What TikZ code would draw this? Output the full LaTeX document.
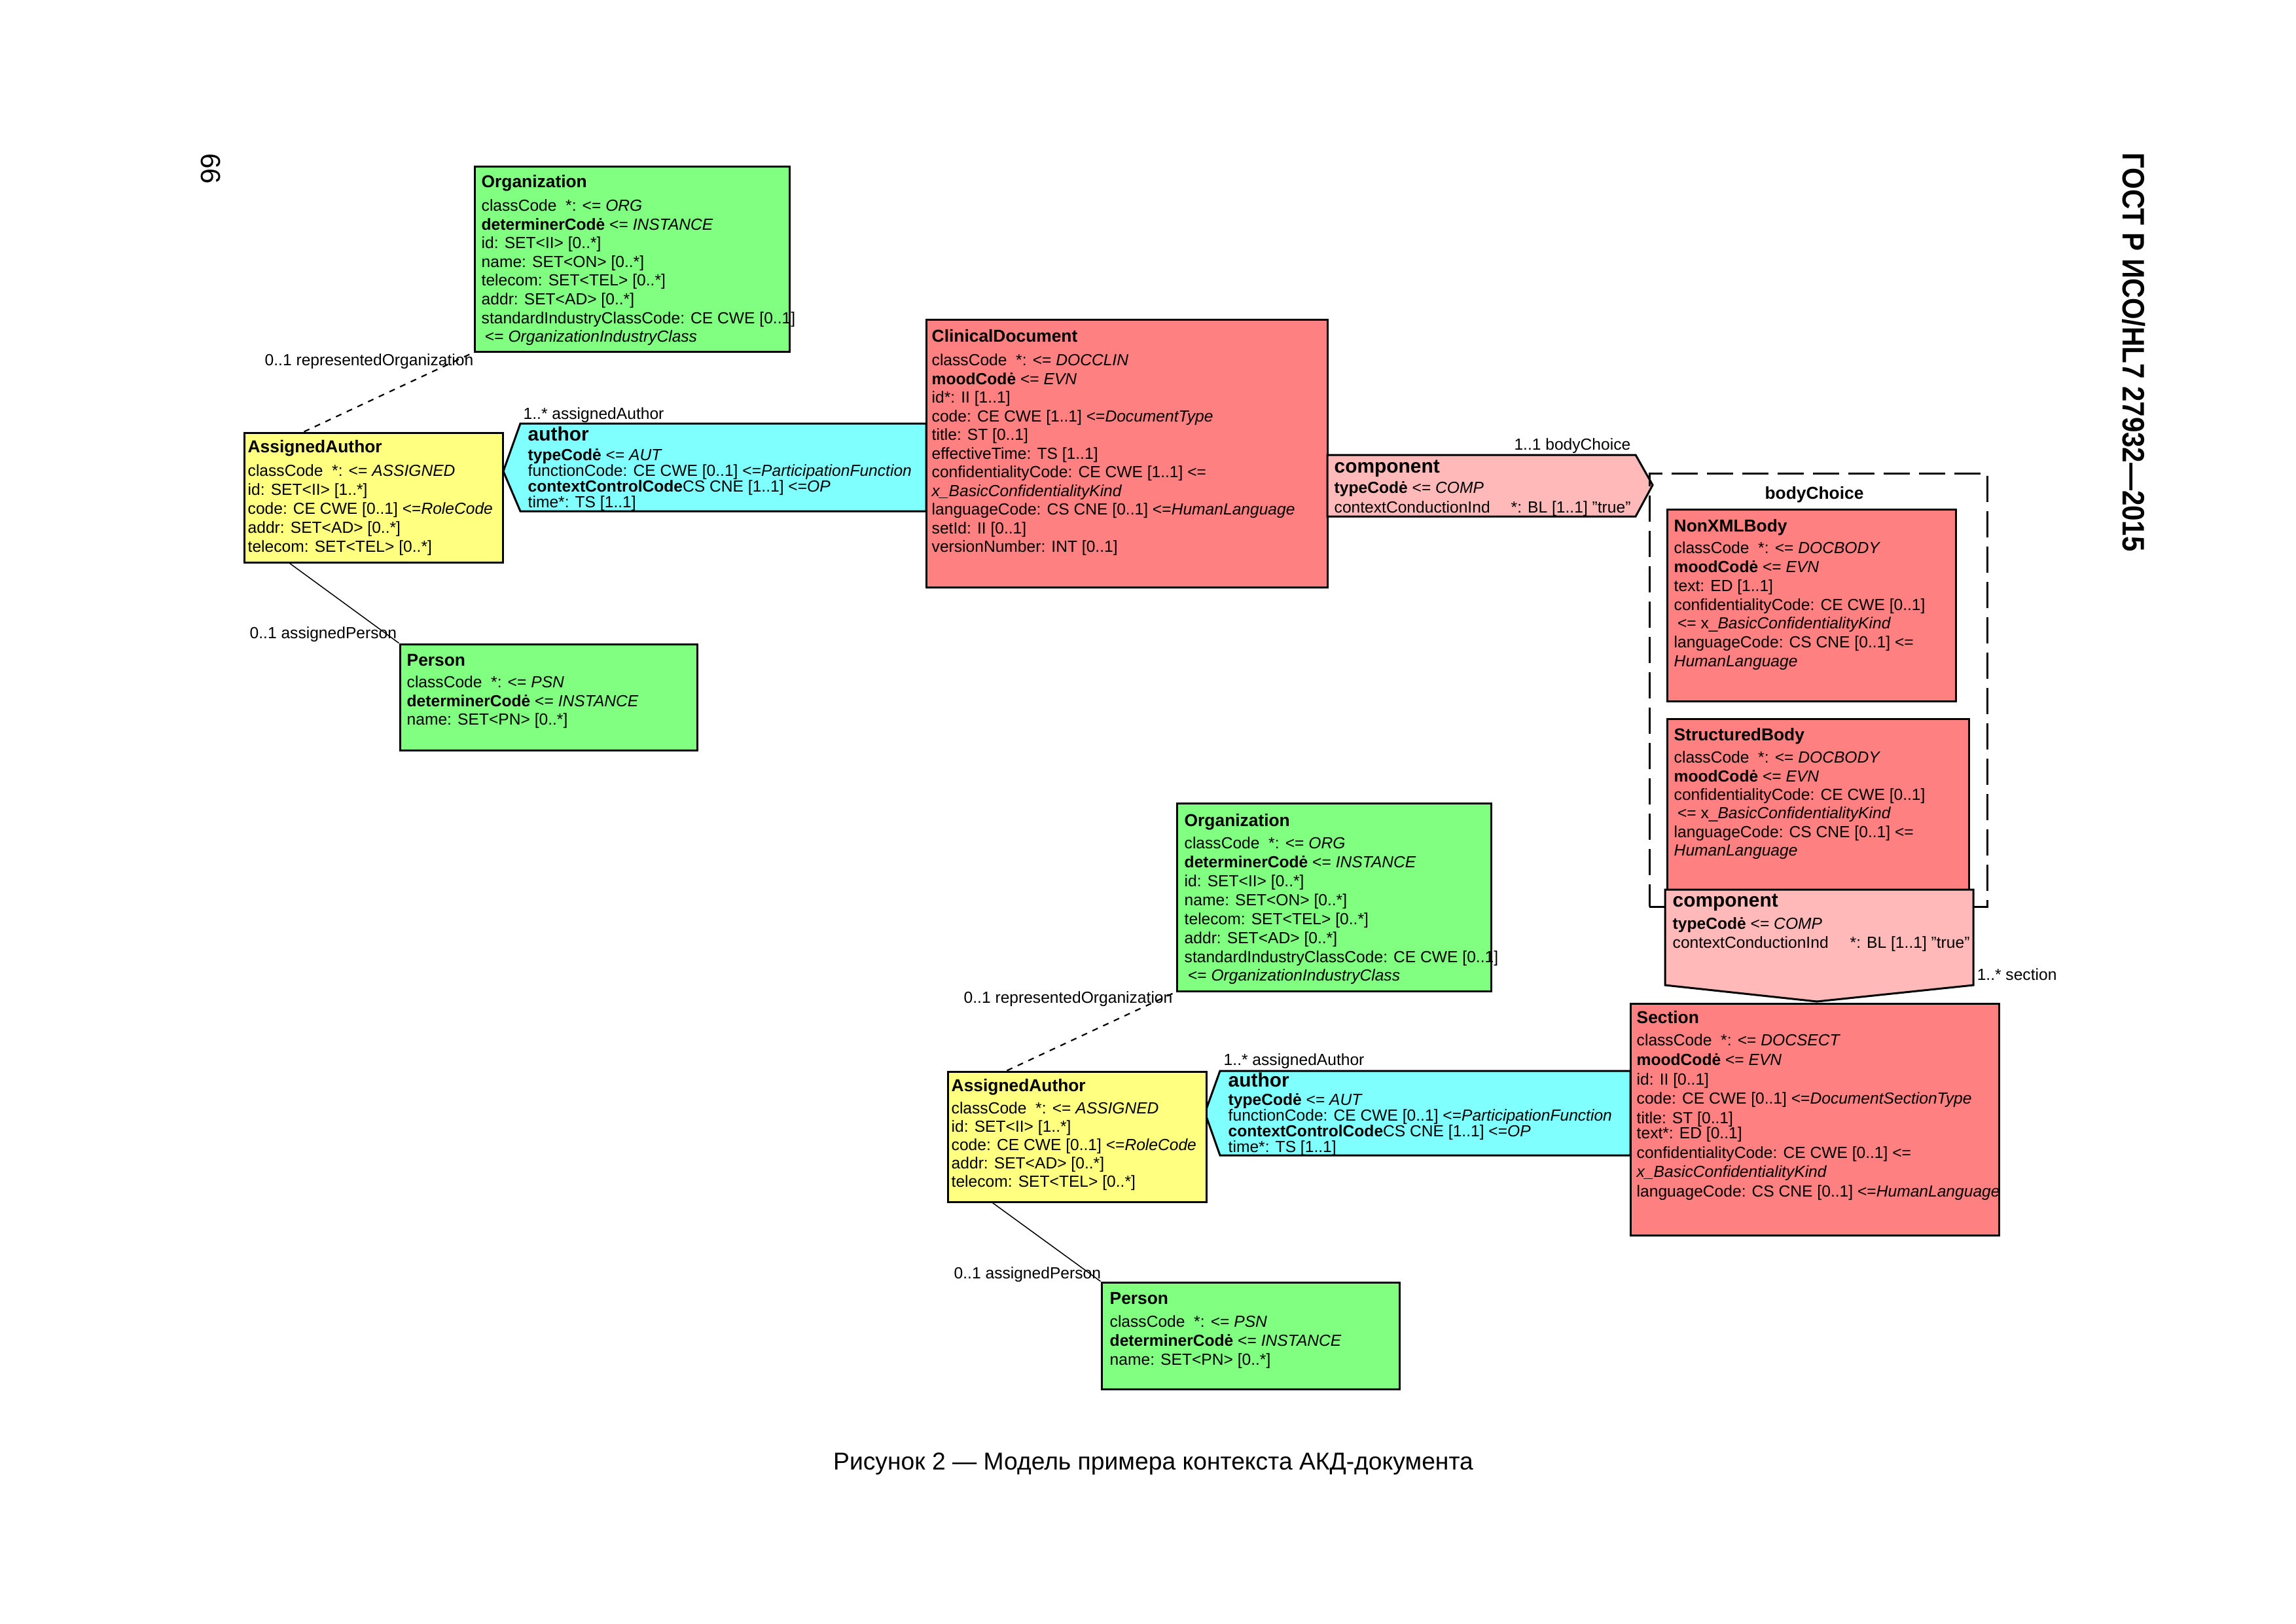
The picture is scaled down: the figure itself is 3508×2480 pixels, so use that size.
\documentclass[tikz,border=0pt]{standalone}
\usepackage{fontspec}
\setmainfont{Liberation Sans}
\usetikzlibrary{fit,calc}
\definecolor{cgreen}{RGB}{128,255,128}
\definecolor{cyellow}{RGB}{255,255,128}
\definecolor{cred}{RGB}{255,128,128}
\definecolor{ccyan}{RGB}{128,255,255}
\definecolor{cpink}{RGB}{255,185,185}
\newcommand\clsname[1]{{\fontsize{7.5}{8}\selectfont\bfseries #1}}
\newcommand\relname[1]{{\fontsize{8.5}{9}\selectfont\bfseries #1}}
\newcommand\topstrut{\rule{0pt}{3.5mm}}
\begin{document}
\begin{tikzpicture}[x=0.1mm,y=-0.1mm,
  umlbox/.style={draw=black, line width=0.3mm, inner sep=0pt},
  shapeline/.style={draw=black, line width=0.3mm, line join=miter},
  bt/.style={anchor=north west, inner sep=0pt, align=left,
     font={\fontsize{7}{#1pt}\selectfont\lineskiplimit=-10pt}},
  lbl/.style={anchor=base west, inner sep=0pt, font=\fontsize{7}{8}\selectfont},
  choicebox/.style={draw=black, line width=0.3mm, dash pattern=on 4mm off 1.4mm, inner sep=0pt},
  assoc/.style={draw=black, line width=0.22mm, dash pattern=on 0.9mm off 0.9mm},
  plainlink/.style={draw=black, line width=0.15mm}]
\useasboundingbox (0,0) rectangle (3508,2480);
\fill[white] (0,0) rectangle (3508,2480);

% ---------------- page furniture
\node[rotate=-90, inner sep=0pt, font=\fontsize{12}{14}\selectfont] (pnum) at (322,258) {66};
\node[rotate=-90, xscale=0.885, inner sep=0pt, font=\fontsize{13.5}{15}\selectfont\bfseries] (gost) at (3260,538) {ГОСТ Р ИСО/HL7 27932—2015};
\node[anchor=base, inner sep=0pt, font=\fontsize{10.6}{12}\selectfont] (caption) at (1762,2245) {Рисунок 2 — Модель примера контекста АКД-документа};

% ---------------- top group
\node[umlbox, fill=cyellow, fit={(373,661) (768,859)}] (aa1) {};
\coordinate (a1tip) at (769,720);
\coordinate (a1tl) at (795,647);
\coordinate (a1tr) at (1415,647);
\coordinate (a1br) at (1415,781);
\coordinate (a1bl) at (795,781);
\draw[shapeline, fill=ccyan] (a1tip) -- (a1tl) -- (a1tr) -- (a1br) -- (a1bl) -- cycle;
\node[umlbox, fill=cred, fit={(1415,488) (2028,897)}] (cd) {};
\coordinate (c1tl) at (2028,695);
\coordinate (c1tr) at (2499,695);
\coordinate (c1tip) at (2525,741);
\coordinate (c1br) at (2499,789);
\coordinate (c1bl) at (2028,789);
\draw[shapeline, fill=cpink] (c1tl) -- (c1tr) -- (c1tip) -- (c1br) -- (c1bl) -- cycle;
\node[umlbox, fill=cgreen, fit={(725,254) (1206,537)}] (org1) {};
\node[umlbox, fill=cgreen, fit={(611,984) (1065,1146)}] (pers1) {};

\node[bt=8.13] (org1t) at (735,251) {\topstrut\clsname{Organization}\\[2.11pt]
classCode\ \ *: <= \textit{ORG}\\
\textbf{determinerCodė} <= \textit{INSTANCE}\\
id: SET<II> [0..*]\\
name: SET<ON> [0..*]\\
telecom: SET<TEL> [0..*]\\
addr: SET<AD> [0..*]\\
standardIndustryClassCode: CE CWE [0..1]\\
\hspace{1.5pt}<= \textit{OrganizationIndustryClass}};

\node[bt=8.25] (aa1t) at (378,656) {\topstrut\clsname{AssignedAuthor}\\[1.99pt]
classCode\ \ *: <= \textit{ASSIGNED}\\
id: SET<II> [1..*]\\
code: CE CWE [0..1] <=\textit{RoleCode}\\
addr: SET<AD> [0..*]\\
telecom: SET<TEL> [0..*]};

\node[bt=6.83] (auth1t) at (806,638) {\topstrut\relname{author}\\[1.71pt]
\textbf{typeCodė} <= \textit{AUT}\\
functionCode: CE CWE [0..1] <=\textit{ParticipationFunction}\\
\textbf{contextControlCode}CS CNE [1..1] <=\textit{OP}\\
time*: TS [1..1]};

\node[bt=8.11] (pers1t) at (621,982) {\topstrut\clsname{Person}\\[1.28pt]
classCode\ \ *: <= \textit{PSN}\\
\textbf{determinerCodė} <= \textit{INSTANCE}\\
name: SET<PN> [0..*]};

\node[bt=8.11] (cdt) at (1423,487) {\topstrut\clsname{ClinicalDocument}\\[2.13pt]
classCode\ \ *: <= \textit{DOCCLIN}\\
\textbf{moodCodė} <= \textit{EVN}\\
id*: II [1..1]\\
code: CE CWE [1..1] <=\textit{DocumentType}\\
title: ST [0..1]\\
effectiveTime: TS [1..1]\\
confidentialityCode: CE CWE [1..1] <=\\
\textit{x\_BasicConfidentialityKind}\\
languageCode: CS CNE [0..1] <=\textit{HumanLanguage}\\
setId: II [0..1]\\
versionNumber: INT [0..1]};

\node[bt=8.54] (comp1t) at (2038,687) {\topstrut\relname{component}\\[0.28pt]
\textbf{typeCodė} <= \textit{COMP}\\
\makebox[27mm][l]{contextConductionInd}*: BL [1..1] "true"};

\node[lbl] (lro1) at (404,558) {0..1 representedOrganization};
\node[lbl] (laa1) at (799,640) {1..* assignedAuthor};
\node[lbl] (lap1) at (381,975) {0..1 assignedPerson};
\node[lbl, anchor=base east] (lbc) at (2492,687) {1..1 bodyChoice};

\draw[assoc] ($(aa1.north west)+(93,0)$) -- (org1.south west);
\draw[plainlink] ($(aa1.south west)+(71,0)$) -- (pers1.north west);

% ---------------- body choice
\node[choicebox, fit={(2520,723) (3036,1385)}] (bc) {};
\node[anchor=base, inner sep=0pt, font=\fontsize{7.5}{8}\selectfont\bfseries] (bct) at (2772,762) {bodyChoice};
\node[umlbox, fill=cred, fit={(2547,778) (2988,1071)}] (nxb) {};
\node[bt=8.2] (nxbt) at (2557,777) {\topstrut\clsname{NonXMLBody}\\[1.19pt]
classCode\ \ *: <= \textit{DOCBODY}\\
\textbf{moodCodė} <= \textit{EVN}\\
text: ED [1..1]\\
confidentialityCode: CE CWE [0..1]\\
\hspace{1.5pt}<= x\_\textit{BasicConfidentialityKind}\\
languageCode: CS CNE [0..1] <=\\
\textit{HumanLanguage}};
\node[umlbox, fill=cred, fit={(2547,1098) (3008,1360)}] (sb) {};
\node[bt=8.08] (sbt) at (2557,1096) {\topstrut\clsname{StructuredBody}\\[1.59pt]
classCode\ \ *: <= \textit{DOCBODY}\\
\textbf{moodCodė} <= \textit{EVN}\\
confidentialityCode: CE CWE [0..1]\\
\hspace{1.5pt}<= x\_\textit{BasicConfidentialityKind}\\
languageCode: CS CNE [0..1] <=\\
\textit{HumanLanguage}};
\coordinate (c2tl) at (2544,1359);
\coordinate (c2tr) at (3015,1359);
\coordinate (c2br) at (3015,1505);
\coordinate (c2tip) at (2776,1530);
\coordinate (c2bl) at (2544,1505);
\draw[shapeline, fill=cpink] (c2tl) -- (c2tr) -- (c2br) -- (c2tip) -- (c2bl) -- cycle;
\node[bt=8.25] (comp2t) at (2555,1350) {\topstrut\relname{component}\\[1.42pt]
\textbf{typeCodė} <= \textit{COMP}\\
\makebox[27.1mm][l]{contextConductionInd}*: BL [1..1] "true"};
\node[lbl] (lsec) at (3020,1497) {1..* section};

% ---------------- lower group
\coordinate (a2tip) at (1841,1700);
\coordinate (a2tl) at (1864,1636);
\coordinate (a2tr) at (2491,1636);
\coordinate (a2br) at (2491,1765);
\coordinate (a2bl) at (1864,1765);
\draw[shapeline, fill=ccyan] (a2tip) -- (a2tl) -- (a2tr) -- (a2br) -- (a2bl) -- cycle;
\node[umlbox, fill=cred, fit={(2491,1533) (3054,1887)}] (sec) {};
\node[umlbox, fill=cyellow, fit={(1448,1637) (1843,1836)}] (aa2) {};
\node[umlbox, fill=cgreen, fit={(1798,1227) (2278,1514)}] (org2) {};
\node[umlbox, fill=cgreen, fit={(1683,1959) (2138,2122)}] (pers2) {};

\node[bt=8.45] (sect) at (2500,1528) {\topstrut\clsname{Section}\\[1.22pt]
classCode\ \ *: <= \textit{DOCSECT}\\
\textbf{moodCodė} <= \textit{EVN}\\
id: II [0..1]\\
code: CE CWE [0..1] <=\textit{DocumentSectionType}\\
title: ST [0..1]\\[-1.9pt]
text*: ED [0..1]\\
confidentialityCode: CE CWE [0..1] <=\\
\textit{x\_BasicConfidentialityKind}\\
languageCode: CS CNE [0..1] <=\textit{HumanLanguage}};

\node[bt=6.83] (auth2t) at (1876,1625) {\topstrut\relname{author}\\[1.14pt]
\textbf{typeCodė} <= \textit{AUT}\\
functionCode: CE CWE [0..1] <=\textit{ParticipationFunction}\\
\textbf{contextControlCode}CS CNE [1..1] <=\textit{OP}\\
time*: TS [1..1]};

\node[bt=7.96] (aa2t) at (1453,1632) {\topstrut\clsname{AssignedAuthor}\\[1.71pt]
classCode\ \ *: <= \textit{ASSIGNED}\\
id: SET<II> [1..*]\\
code: CE CWE [0..1] <=\textit{RoleCode}\\
addr: SET<AD> [0..*]\\
telecom: SET<TEL> [0..*]};

\node[bt=8.22] (org2t) at (1809,1227) {\topstrut\clsname{Organization}\\[1.45pt]
classCode\ \ *: <= \textit{ORG}\\
\textbf{determinerCodė} <= \textit{INSTANCE}\\
id: SET<II> [0..*]\\
name: SET<ON> [0..*]\\
telecom: SET<TEL> [0..*]\\
addr: SET<AD> [0..*]\\
standardIndustryClassCode: CE CWE [0..1]\\
\hspace{1.5pt}<= \textit{OrganizationIndustryClass}};

\node[bt=8.25] (pers2t) at (1695,1957) {\topstrut\clsname{Person}\\[1.71pt]
classCode\ \ *: <= \textit{PSN}\\
\textbf{determinerCodė} <= \textit{INSTANCE}\\
name: SET<PN> [0..*]};

\node[lbl] (lro2) at (1472,1532) {0..1 representedOrganization};
\node[lbl] (laa2) at (1869,1627) {1..* assignedAuthor};
\node[lbl] (lap2) at (1457,1953) {0..1 assignedPerson};

\draw[assoc] ($(aa2.north west)+(92,0)$) -- (org2.south west);
\draw[plainlink] ($(aa2.south west)+(70,0)$) -- (pers2.north west);
\end{tikzpicture}
\end{document}
